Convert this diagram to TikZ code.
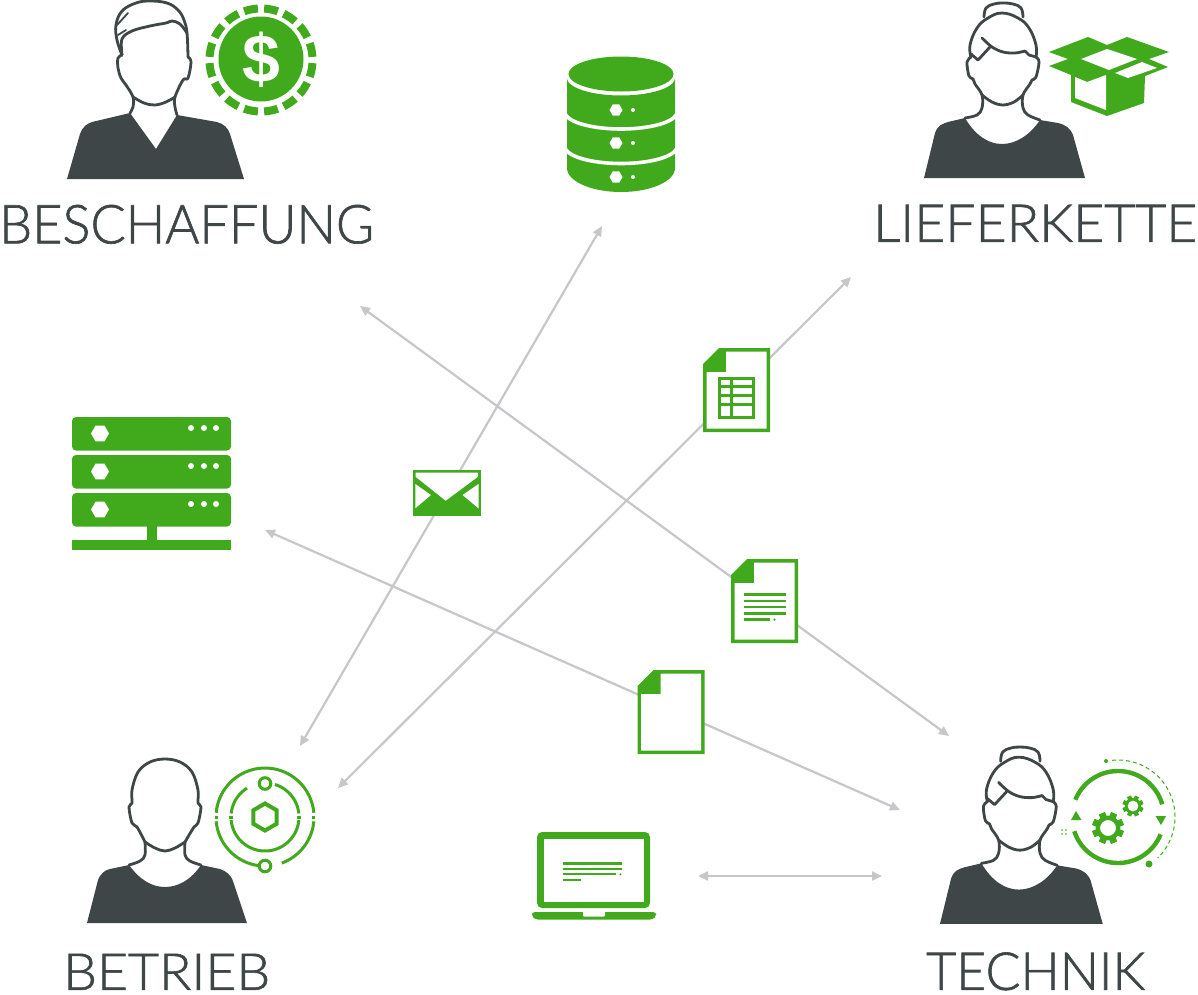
\documentclass[tikz,border=0pt]{standalone}
\usepackage{fontspec}
\setmainfont{Lato Light}[FakeBold=1.2]
\newfontfamily\boldface{Liberation Sans Bold}
\usetikzlibrary{arrows.meta}
\definecolor{gr}{HTML}{41A91C}
\definecolor{dk}{HTML}{3E4647}
\definecolor{ln}{HTML}{C6C6CB}
\tikzset{
  flow/.style={draw=ln,line width=2.2pt,{Triangle[length=10pt,width=9pt]}-{Triangle[length=10pt,width=9pt]},shorten <=0pt,shorten >=0pt},
  outl/.style={draw=dk,line width=2.8pt,line cap=round,line join=round},
  gline/.style={draw=gr,line width=3pt},
  label/.style={inner sep=0pt,anchor=south west,text=dk},
}
\newcommand{\myarc}[6][gline]{\draw[#1] plot[domain=#5:#6,samples=40] ({#2+#4*cos(\x)},{#3-#4*sin(\x)});}
\newcommand{\hexf}[3]{({#1+#3},{#2}) -- ({#1+.5*#3},{#2+.866*#3}) -- ({#1-.5*#3},{#2+.866*#3}) -- ({#1-#3},{#2}) -- ({#1-.5*#3},{#2-.866*#3}) -- ({#1+.5*#3},{#2-.866*#3}) -- cycle}
\newcommand{\hexp}[3]{({#1},{#2+#3}) -- ({#1+.866*#3},{#2+.5*#3}) -- ({#1+.866*#3},{#2-.5*#3}) -- ({#1},{#2-#3}) -- ({#1-.866*#3},{#2-.5*#3}) -- ({#1-.866*#3},{#2+.5*#3}) -- cycle}
\newcommand{\gearicon}[4]{%
  \foreach \a in {0,45,...,315}{\draw[gr,line width=#3*.42pt] ({#1+#3*.6*cos(\a+22.5)},{#2+#3*.6*sin(\a+22.5)}) -- ({#1+#3*cos(\a+22.5)},{#2+#3*sin(\a+22.5)});}
  \fill[gr,even odd rule] (#1,#2) circle[radius=#3*.78pt] (#1,#2) circle[radius=#4pt];}
\newcommand{\docicon}[2]{%
  \fill[gr] (#1,#2+16) -- (#1+16,#2) -- (#1+67,#2) -- (#1+67,#2+84) -- (#1,#2+84) -- cycle;
  \fill[white] (#1+3.5,#2+24) -- (#1+23,#2+24) -- (#1+23,#2+3.5) -- (#1+63.5,#2+3.5) -- (#1+63.5,#2+80.5) -- (#1+3.5,#2+80.5) -- cycle;}
\newcommand{\womanfig}{%
  \fill[dk] (924,178) -- (935,133) .. controls (938,125) and (942,124) .. (948,122) -- (965,118) .. controls (975,135) and (988,144) .. (1002,144) .. controls (1016,144) and (1030,135) .. (1040,120) -- (1058,123) .. controls (1066,125) and (1070,128) .. (1073,135) -- (1085,178) -- cycle;
  \draw[outl] plot[smooth,tension=.6] coordinates {(965,118)(977,115)(982,108)(982,95)(975,84)(973,79)(969,76)(967,62)(971,57)};
  \draw[outl] plot[smooth,tension=.6] coordinates {(982,95)(992,102)(1003,105)(1014,102)(1023,95)};
  \draw[outl] plot[smooth,tension=.6] coordinates {(1040,120)(1028,115)(1023,108)(1023,95)(1030,84)(1032,80)(1036,77)(1039,62)(1036,57)};
  \draw[outl] plot[smooth,tension=.7] coordinates {(971,57)(970,45)(977,28)(988,18)(1002,13)(1018,18)(1029,28)(1036,45)(1036,57)};
  \draw[outl] plot[smooth,tension=.7] coordinates {(984,17)(986,8)(994,4)(1003,3)(1013,4)(1021,8)(1023,17)};
  \draw[outl] plot[smooth,tension=.6] coordinates {(982,38)(992,47)(1003,52)(1015,53)(1025,51)};
  \draw[outl] (1025,51) -- (1029,55) -- (1036,57);
  \draw[outl] (990,47) -- (978,60) -- (971,54);
}
\begin{document}
\begin{tikzpicture}[x=1pt,y=-1pt]
\useasboundingbox (0,0) rectangle (1198,994);
% connector ends
\coordinate (dbEnd) at (602,226);
\coordinate (betA) at (300,746);
\coordinate (lieEnd) at (851,277);
\coordinate (betB) at (338,788);
\coordinate (beschEnd) at (360,306);
\coordinate (tecA) at (949,736);
\coordinate (srvEnd) at (265,530);
\coordinate (tecB) at (900,810);
\coordinate (lapEnd) at (698,876);
\coordinate (tecC) at (882,876);
\draw[flow] (dbEnd) -- (betA);
\draw[flow] (lieEnd) -- (betB);
\draw[flow] (beschEnd) -- (tecA);
\draw[flow] (srvEnd) -- (tecB);
\draw[flow] (lapEnd) -- (tecC);

% labels
\node[label] (lBesch) at (-1,244) {\resizebox{375pt}{38.5pt}{BESCHAFFUNG}};
\node[label] (lLief) at (873,242) {\resizebox{324pt}{37pt}{LIEFERKETTE}};
\node[label] (lBet) at (63,990) {\resizebox{207pt}{36pt}{BETRIEB}};
\node[label] (lTech) at (926,990.5) {\resizebox{219pt}{37.5pt}{TECHNIK}};

% man
\fill[dk] (67,179) -- (80,134) .. controls (83,126) and (87,124) .. (92,122) -- (130,113) -- (156,149) -- (177,115) -- (217,122) .. controls (224,124) and (228,128) .. (230,134) -- (244,179) -- cycle;
\draw[outl] plot[smooth,tension=.6] coordinates {(130,113)(133,107)(133,97)(126,85)(121,78)(118,68)(118,58)(122,55)};
\draw[outl] plot[smooth,tension=.6] coordinates {(133,97)(144,103)(155,105)(166,102)(175,97)};
\draw[outl] plot[smooth,tension=.6] coordinates {(177,115)(175,107)(175,97)(183,80)(188,78)(191,62)(188,57)};
\draw[outl] plot[smooth,tension=.65] coordinates {(122,55)(117,40)(116,25)(122,11)(136,3)(150,1)(167,3)(178,10)(184,20)(187,33)(188,57)};
\draw[outl] plot[smooth,tension=.6] coordinates {(122,55)(122,39)(132,31)(150,26)(166,23)(172,21)(180,24)(187,33)};
\draw[outl,line width=1.8pt] (117,25) -- (128,13);
\draw[outl,line width=1.8pt] (118,35) -- (126,30);
% coin
\fill[gr] (261,59) circle[radius=42.5pt];
\foreach \i in {0,...,15}{\myarc[{draw=gr,line width=8pt}]{261}{60}{51.5}{\i*22.5+3.5}{\i*22.5+19}}
\node[inner sep=0pt,text=white] (dollar) at (261,60) {\fontsize{68}{68}\boldface\$};

% woman top right
\womanfig
% box
\fill[gr] (1049,52) -- (1088,37) -- (1107,45) -- (1127,37) -- (1169,52) -- (1149,59) -- (1168,67) -- (1145,76) -- (1144,103) -- (1107,116) -- (1071,102) -- (1071,75) -- (1049,66) -- (1068,59) -- cycle;
\fill[white] (1081,59) -- (1107,49) -- (1137,59) -- (1109,70) -- cycle;
\fill[white] (1115,73) -- (1142,62) -- (1157,68) -- (1128,78) -- cycle;
\fill[white] (1075,77) -- (1087,82) -- (1106,75) -- (1106,110) -- (1075,98) -- cycle;

% database
\fill[gr] plot[domain=180:360,samples=40] ({621+54*cos(\x)},{78-17.5*sin(\x)}) -- (675,168) -- plot[domain=0:-180,samples=40] ({621+54*cos(\x)},{168-24*sin(\x)}) -- cycle;
\fill[gr] (621,74) ellipse[x radius=52.5pt,y radius=17.5pt];
\draw[white,line width=3.6pt] plot[domain=180:360,samples=40] ({621+56*cos(\x)},{112-17*sin(\x)});
\draw[white,line width=3.6pt] plot[domain=180:360,samples=40] ({621+56*cos(\x)},{146.5-17*sin(\x)});
\foreach \yy in {110,143,177}{
  \fill[white] \hexf{616}{\yy}{6.5};
  \fill[white] (633,\yy) circle[radius=2pt];
}

% server
\foreach \yy in {417,455,493}{
  \fill[gr,rounded corners=4pt] (72,\yy) rectangle (231,\yy+33.5);
  \fill[white] \hexf{100}{\yy+16.5}{9};
  \foreach \xx in {191,204,216}{\fill[white] (\xx,\yy+11) circle[radius=3pt];}
}
\fill[gr] (147,526) rectangle (157,541);
\fill[gr] (72,540) rectangle (231,550);

% envelope
\fill[gr] (412.7,470) rectangle (481,515.7);
\fill[white] (415.5,472.7) -- (478,472.7) -- (478,476.7) -- (445.7,500.7) -- (415.5,476.7) -- cycle;
\fill[white] (415.3,484) -- (431,495) -- (415.3,508.3) -- cycle;
\fill[white] (478.5,484) -- (462.5,495) -- (478.5,508.3) -- cycle;

% spreadsheet
\docicon{703}{348}
\fill[gr] (718,377) rectangle (754.5,418.5);
\fill[white] (721,380) rectangle (730,384.5);
\fill[white] (733,380) rectangle (751.5,384.5);
\fill[white] (721,387.5) rectangle (730,394);
\fill[white] (733,387.5) rectangle (751.5,394);
\fill[white] (721,396.5) rectangle (730,403);
\fill[white] (733,396.5) rectangle (751.5,403);
\fill[white] (721,406) rectangle (730,415.5);
\fill[white] (733,406) rectangle (751.5,415.5);

% text doc
\docicon{731}{559}
\foreach \yy in {594.5,600.8,607.2,613.4}{\fill[gr] (744,\yy-1.2) rectangle (786,\yy+1.2);}
\fill[gr] (744,618.4) rectangle (769.5,620.8);
\fill[gr] (774.5,619.6) circle[radius=1.3pt];

% empty doc
\docicon{637.5}{670}

% laptop
\fill[gr,rounded corners=5pt] (537,832) rectangle (650,908);
\fill[white] (543.5,838.5) rectangle (643.5,901.5);
\fill[gr,rounded corners=3pt] (532,912) -- (656,912) -- (656,916) -- (653,919.5) -- (535,919.5) -- (532,916) -- cycle;
\fill[white,rounded corners=1pt] (583,911) -- (605,911) -- (605,916.5) -- (583,916.5) -- cycle;
\fill[gr] (563,862.3) rectangle (622,864.5);
\fill[gr] (563,867.8) rectangle (622,870);
\fill[gr] (563,873.2) rectangle (616,875.4);
\fill[gr] (620.5,874.3) circle[radius=1.1pt];
\fill[gr] (563,878.8) rectangle (581,881);

% Betrieb person
\fill[dk] (87,923) -- (98,880) .. controls (101,873) and (105,870) .. (110,869) -- (129,865) .. controls (140,880) and (152,887) .. (165,887) .. controls (178,887) and (191,880) .. (201,865) -- (220,869) .. controls (226,871) and (231,875) .. (233,881) -- (247,923) -- cycle;
\draw[outl] plot[smooth,tension=.6] coordinates {(145,842)(155,848)(165,851)(175,848)(185,842)};
\draw[outl] plot[smooth,tension=.6] coordinates {(145,842)(137,827)(132,823)(129,807)(132,803)(132,790)(138,772)(150,762)(165,759)(180,762)(192,772)(198,790)(198,803)(201,807)(198,823)(194,827)(185,842)};
\draw[outl] plot[smooth,tension=.6] coordinates {(145,842)(145,855)(140,861)(129,865)};
\draw[outl] plot[smooth,tension=.6] coordinates {(185,842)(185,855)(190,861)(201,865)};
% orbit icon
\myarc{265}{817}{49}{5}{175}
\myarc{265}{817}{49}{185}{262}
\myarc{265}{817}{49}{290}{355}
\myarc{265}{817}{34}{185}{355}
\myarc{265}{817}{34}{6}{73}
\myarc{265}{817}{34}{122}{174}
\draw[gline] (214.5,817.5) -- (218,817.5);
\draw[gline] (229,817.5) -- (233,817.5);
\draw[gline] (297,817.5) -- (301,817.5);
\draw[gline] (311.5,817.5) -- (315,817.5);
\draw[gr,line width=3pt,fill=white] (265,783.5) circle[radius=5.8pt];
\draw[gr,line width=3pt,fill=white] (265,866) circle[radius=5.8pt];
\draw[gr,line width=4pt,line join=miter] \hexp{265}{817}{13.5};

% Technik person
\begin{scope}[shift={(5.8,744)},scale=1.011]
\womanfig
\end{scope}
% gear icon
\myarc[{draw=gr,line width=4.4pt}]{1118}{817}{46}{16}{158}
\myarc[{draw=gr,line width=4.4pt}]{1118}{817}{46}{198}{338}
\fill[gr] (1071,820) -- (1081.5,820) -- (1076,811) -- cycle;
\fill[gr] (1155.5,816) -- (1166,816) -- (1161,825) -- cycle;
\gearicon{1108}{828}{16}{8}
\gearicon{1133}{806}{10.5}{5.5}
\draw[gr,line width=1pt,dash pattern=on 4pt off 3pt] plot[domain=96:-46,samples=50] ({1118+57*cos(\x)},{817-57*sin(\x)});
\fill[gr] (1106,761) circle[radius=2pt];
\fill[gr] (1149,864) circle[radius=3.5pt];
\foreach \dx/\dy in {-2/-2,2/-2,-2/2,2/2}{\fill[gr] (1064+\dx,832+\dy) circle[radius=.9pt];}
\end{tikzpicture}
\end{document}
